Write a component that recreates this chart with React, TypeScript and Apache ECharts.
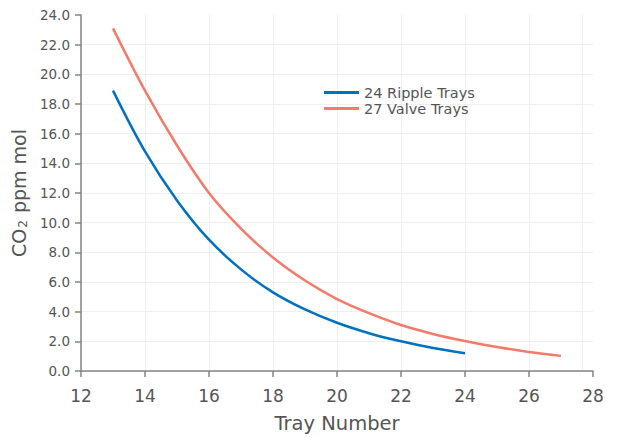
import React, { useEffect, useRef } from "react";
import * as echarts from "echarts";

const rippleTrays = [13, 14, 15, 16, 17, 18, 19, 20, 21, 22, 23, 24];
const rippleValues = [18.9, 14.8, 11.5, 8.85, 6.85, 5.3, 4.15, 3.25, 2.55, 2.0, 1.55, 1.2];
const valveTrays = [13, 14, 15, 16, 17, 18, 19, 20, 21, 22, 23, 24, 25, 26, 27];
const valveValues = [23.1, 18.9, 15.2, 12.0, 9.6, 7.65, 6.1, 4.85, 3.9, 3.1, 2.5, 2.02, 1.62, 1.28, 1.02];
const seriesNames = ["24 Ripple Trays", "27 Valve Trays"];
const extraGridX = 27.65;

const FONT = "DejaVu Sans";
const TEXT = "#555555";

export default function App() {
  const ref = useRef<HTMLDivElement>(null);
  useEffect(() => {
    if (!ref.current) return;
    const chart = echarts.init(ref.current, undefined, { renderer: "svg" });
    const axisColor = "#858585";
    chart.setOption({
      animation: false,
      textStyle: { fontFamily: FONT },
      grid: { left: 81, right: 24, top: 15, bottom: 62, containLabel: false },
      legend: {
        orient: "vertical",
        left: 319,
        top: 80,
        itemWidth: 35,
        itemHeight: 3,
        itemGap: 1,
        icon: "rect",
        textStyle: { fontFamily: FONT, fontSize: 14.5, color: TEXT },
        data: seriesNames,
      },
      xAxis: {
        type: "value",
        min: 12,
        max: 28,
        interval: 2,
        name: "Tray Number",
        nameLocation: "middle",
        nameGap: 42,
        nameTextStyle: { fontFamily: FONT, fontSize: 19.5, color: TEXT },
        axisLine: { show: true, lineStyle: { color: axisColor, width: 1.5 } },
        axisTick: { show: true, length: 6, lineStyle: { color: axisColor, width: 1.5 } },
        axisLabel: { fontFamily: FONT, fontSize: 17, color: TEXT, margin: 16 },
        splitLine: { show: true, showMaxLine: false, lineStyle: { color: "#efefef", width: 1 } },
      },
      yAxis: {
        type: "value",
        min: 0,
        max: 24,
        interval: 2,
        name: "CO{sub|2} ppm mol",
        nameLocation: "middle",
        nameGap: 50,
        nameTextStyle: {
          fontFamily: FONT,
          fontSize: 19,
          color: TEXT,
          rich: {
            sub: { fontFamily: FONT, fontSize: 12, color: TEXT, verticalAlign: "bottom", padding: [9, 1, 0, 1] },
          },
        },
        axisLine: { show: true, lineStyle: { color: axisColor, width: 1.5 } },
        axisTick: { show: true, length: 6, lineStyle: { color: axisColor, width: 1.5 } },
        axisLabel: {
          fontFamily: FONT,
          fontSize: 13.5,
          color: TEXT,
          margin: 11,
          formatter: (v: number) => v.toFixed(1),
        },
        splitLine: { show: true, showMaxLine: false, lineStyle: { color: "#efefef", width: 1 } },
      },
      series: [
        {
          name: seriesNames[0],
          type: "line",
          smooth: 0.35,
          showSymbol: false,
          symbol: "none",
          color: "#0070C0",
          lineStyle: { width: 2.5, color: "#0070C0" },
          data: rippleTrays.map((t, i) => [t, rippleValues[i]]),
          markLine: {
            silent: true,
            symbol: "none",
            label: { show: false },
            lineStyle: { color: "#efefef", width: 1, type: "solid" },
            data: [{ xAxis: extraGridX }],
            z: 0,
          },
        },
        {
          name: seriesNames[1],
          type: "line",
          smooth: 0.35,
          showSymbol: false,
          symbol: "none",
          color: "#F47A6A",
          lineStyle: { width: 2.5, color: "#F47A6A" },
          data: valveTrays.map((t, i) => [t, valveValues[i]]),
        },
      ],
    });
    return () => chart.dispose();
  }, []);
  return (
    <div
      ref={ref}
      style={{ position: "fixed", left: 0, top: 0, width: 617, height: 438, background: "#fff" }}
    />
  );
}
